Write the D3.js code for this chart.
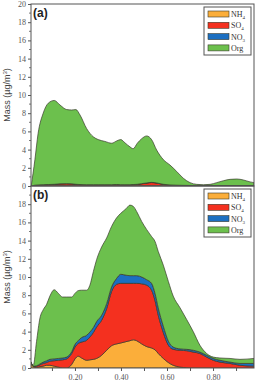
<!DOCTYPE html>
<html>
<head>
<meta charset="utf-8">
<script src="https://cdn.jsdelivr.net/npm/d3@7"></script>
<style>
  body { margin: 0; background: #fff; }
  svg { display: block; }
</style>
</head>
<body>
<div class="chart"></div>
<script>
// Panel (a) - size bins and species masses
const sizeA = [0.010, 0.026, 0.040, 0.062, 0.084, 0.110, 0.135, 0.164, 0.186, 0.204, 0.222, 0.251, 0.280, 0.301,
  0.330, 0.360, 0.381, 0.399, 0.417, 0.439, 0.453, 0.471, 0.490, 0.512, 0.533, 0.555, 0.584, 0.613, 0.642, 0.671,
  0.700, 0.729, 0.758, 0.787, 0.816, 0.845, 0.874, 0.903, 0.932, 0.961, 0.978];
const nh4A = [0, 0.02, 0.02, 0.02, 0.02, 0.02, 0.02, 0.02, 0.02, 0.02, 0.02, 0.02, 0.02, 0.02, 0.02, 0.02, 0.02, 0.02,
  0.02, 0.02, 0.02, 0.02, 0.02, 0.02, 0.02, 0.02, 0.02, 0.02, 0.02, 0.02, 0.02, 0.02, 0.02, 0.02, 0.02, 0.02, 0.02,
  0.02, 0.02, 0.02, 0.02];
const so4A = [0, 0.05, 0.08, 0.10, 0.12, 0.15, 0.20, 0.22, 0.20, 0.15, 0.12, 0.10, 0.10, 0.10, 0.10, 0.10, 0.12, 0.10,
  0.10, 0.10, 0.12, 0.15, 0.22, 0.30, 0.36, 0.30, 0.15, 0.08, 0.05, 0.03, 0.02, 0.01, 0.01, 0.01, 0.01, 0.01, 0.01,
  0.01, 0.01, 0.01, 0.01];
const no3A = [0, 0.02, 0.02, 0.02, 0.02, 0.02, 0.02, 0.02, 0.02, 0.02, 0.02, 0.02, 0.02, 0.02, 0.02, 0.02, 0.02, 0.02,
  0.02, 0.02, 0.02, 0.02, 0.02, 0.02, 0.02, 0.02, 0.02, 0.02, 0.02, 0.02, 0.02, 0.02, 0.02, 0.02, 0.02, 0.02, 0.02,
  0.02, 0.02, 0.02, 0.02];
const orgA = [0, 2.81, 5.68, 7.86, 8.94, 9.21, 8.66, 8.14, 8.11, 8.21, 7.64, 6.16, 5.26, 4.96, 4.76, 4.56, 4.79, 4.96,
  4.61, 4.16, 3.94, 4.51, 4.94, 5.16, 4.70, 3.61, 2.71, 2.18, 1.51, 0.78, 0.31, 0.13, 0.09, 0.13, 0.32, 0.53, 0.68,
  0.72, 0.61, 0.40, 0.32];

// Panel (b)
const sizeB = [0.008, 0.019, 0.033, 0.048, 0.062, 0.077, 0.091, 0.110, 0.128, 0.146, 0.164, 0.186, 0.200, 0.214,
  0.229, 0.251, 0.265, 0.280, 0.294, 0.316, 0.338, 0.359, 0.381, 0.399, 0.422, 0.439, 0.454, 0.468, 0.490, 0.512,
  0.533, 0.548, 0.562, 0.584, 0.606, 0.627, 0.657, 0.686, 0.714, 0.743, 0.772, 0.801, 0.830, 0.874, 0.917, 0.978];
const nh4B = [0.6, 0.15, 0.05, 0.15, 0.2, 0.3, 0.3, 0.2, 0.1, 0, 0, 0.4, 1.0, 1.3, 1.1, 0.85, 0.9, 0.95, 1.05, 1.4,
  1.95, 2.45, 2.65, 2.75, 2.9, 3.0, 3.1, 3.0, 2.65, 2.35, 2.2, 2.0, 1.6, 1.05, 0.6, 0.3, 0.1, 0.03, 0, 0, 0, 0, 0, 0,
  0, 0];
const so4B = [0.05, 0.03, 0.15, 0.2, 0.3, 0.3, 0.45, 0.6, 0.75, 0.9, 1.0, 1.2, 1.3, 1.4, 1.75, 2.2, 2.5, 2.95, 3.45,
  3.85, 4.6, 5.95, 6.55, 6.55, 6.4, 6.3, 6.2, 6.3, 6.6, 6.75, 6.35, 5.4, 4.2, 2.85, 1.9, 1.75, 1.85, 1.87, 1.75, 1.6,
  1.2, 0.85, 0.65, 0.5, 0.3, 0.2];
const no3B = [0, 0.02, 0.05, 0.1, 0.15, 0.2, 0.2, 0.2, 0.2, 0.2, 0.2, 0.2, 0.3, 0.3, 0.5, 0.55, 0.55, 0.55, 0.6, 0.55,
  0.55, 0.5, 0.65, 1.0, 0.9, 0.85, 0.85, 0.85, 0.75, 0.6, 0.75, 0.8, 0.8, 0.7, 0.45, 0.25, 0.15, 0.15, 0.2, 0.15,
  0.2, 0.2, 0.2, 0.15, 0.2, 0.3];
const orgB = [0.05, 0.1, 2.65, 5.05, 5.75, 6.2, 6.95, 7.6, 7.15, 6.7, 6.6, 6.0, 5.6, 5.5, 5.2, 4.95, 5.15, 6.15, 6.8,
  7.5, 7.2, 6.65, 6.65, 6.7, 7.3, 7.75, 7.6, 7.05, 6.1, 5.5, 5.15, 5.7, 6.2, 6.7, 6.55, 5.6, 4.5, 3.25, 2.05, 0.75,
  0.2, 0.15, 0.25, 0.4, 0.45, 0.55];

const species = ["NH4", "SO4", "NO3", "Org"];
const legendNames = [["NH", "4"], ["SO", "4"], ["NO", "3"], ["Org", ""]];
const colors = ["#fbae3a", "#f4301f", "#1c6fc1", "#6cc04d"];
const yTicksA = [0, 2, 4, 6, 8, 10, 12, 14, 16, 18, 20];
const yTicksB = [0, 2, 4, 6, 8, 10, 12, 14, 16, 18];
const xTickLabels = [0.2, 0.4, 0.6, 0.8];
const xMinorTicks = [0.1, 0.2, 0.3, 0.4, 0.5, 0.6, 0.7, 0.8, 0.9];

const Width = 257, Height = 382;
const Left = 31, Right = 254;

const svg = d3.select(".chart").append("svg")
  .attr("width", Width).attr("height", Height);

const x = d3.scaleLinear().domain([0.009, 0.978]).range([Left, Right]);

const color = d3.scaleOrdinal().domain(species).range(colors);

function toRows(size, cols) {
  return size.map((s, i) => ({size: s, NH4: cols[0][i], SO4: cols[1][i], NO3: cols[2][i], Org: cols[3][i]}));
}

function plotPanel(id, top, bottom, rows, yTicks, label, showX) {
  const y = d3.scaleLinear().domain([0, 20]).range([bottom, top]);
  const g = svg.append("g");

  g.append("clipPath").attr("id", "clip" + id)
    .append("rect").attr("x", Left).attr("y", top).attr("width", Right - Left).attr("height", bottom - top);

  const stacked = d3.stack().keys(species)(rows);
  const area = d3.area()
    .x(d => x(d.data.size))
    .y0(d => y(d[0]))
    .y1(d => y(d[1]))
    .curve(d3.curveMonotoneX);

  g.append("g").attr("clip-path", "url(#clip" + id + ")")
    .selectAll("path").data(stacked).join("path")
    .attr("d", area)
    .attr("fill", d => color(d.key))
    .attr("stroke", "#3a3a2c")
    .attr("stroke-width", 0.7)
    .attr("stroke-linejoin", "round");

  // frame
  g.append("rect").attr("x", Left).attr("y", top).attr("width", Right - Left).attr("height", bottom - top)
    .attr("fill", "none").attr("stroke", "#555").attr("stroke-width", 1);

  // Y axis with minor ticks
  const yAxis = g.append("g").attr("transform", "translate(" + Left + ",0)")
    .call(d3.axisLeft(y).tickValues(yTicks).tickSize(3).tickPadding(2).tickFormat(d3.format("d")));
  yAxis.select(".domain").remove();
  yAxis.selectAll("line").attr("stroke", "#555");
  yAxis.selectAll("text")
    .attr("font-family", "'Liberation Serif', 'Times New Roman', serif")
    .attr("font-size", 8).attr("fill", "#555");
  const yMinor = d3.range(1, 20, 2);
  g.append("g").selectAll("line").data(yMinor).join("line")
    .attr("x1", Left - 2).attr("x2", Left)
    .attr("y1", d => y(d)).attr("y2", d => y(d))
    .attr("stroke", "#555").attr("stroke-width", 0.8);

  // Y label
  g.append("text")
    .attr("transform", "translate(10," + ((top + bottom) / 2) + ") rotate(-90)")
    .attr("text-anchor", "middle")
    .attr("font-family", "'Liberation Sans', Arial, sans-serif")
    .attr("font-size", 9).attr("fill", "#444")
    .text("Mass (µg/m")
    .append("tspan").attr("baseline-shift", "super").attr("font-size", 6).text("3")
    .select(function() { return this.parentNode; })
    .append("tspan").text(")");

  // panel letter
  g.append("text").attr("x", Left + 2).attr("y", top + 13)
    .attr("font-family", "'Liberation Sans', Arial, sans-serif")
    .attr("font-weight", "bold").attr("font-size", 12).attr("fill", "#222")
    .text(label);

  // X axis
  if (showX) {
    const xAxis = g.append("g").attr("transform", "translate(0," + bottom + ")")
      .call(d3.axisBottom(x).tickValues(xMinorTicks).tickSize(3).tickPadding(3)
        .tickFormat(d => xTickLabels.some(v => Math.abs(v - d) < 1e-9) ? d3.format(".2f")(d) : ""));
    xAxis.select(".domain").remove();
    xAxis.selectAll("line").attr("stroke", "#555");
    xAxis.selectAll("text")
      .attr("font-family", "'Liberation Serif', 'Times New Roman', serif")
      .attr("font-size", 8).attr("fill", "#555");
  }

  // legend
  const lx = 204, ly = top + 3;
  const legend = g.append("g");
  legend.append("rect").attr("x", lx).attr("y", ly).attr("width", 47).attr("height", 48)
    .attr("fill", "#fff").attr("stroke", "#555").attr("stroke-width", 1);
  species.forEach((s, i) => {
    const cy = ly + 7 + i * 11.3;
    legend.append("rect").attr("x", lx + 4).attr("y", cy - 3).attr("width", 21).attr("height", 6)
      .attr("fill", color(s)).attr("stroke", "#3a3a2c").attr("stroke-width", 0.6);
    const t = legend.append("text").attr("x", lx + 27).attr("y", cy + 3)
      .attr("font-family", "'Liberation Serif', 'Times New Roman', serif")
      .attr("font-size", 8).attr("fill", "#333")
      .text(legendNames[i][0]);
    if (legendNames[i][1]) {
      t.append("tspan").attr("dy", 2).attr("font-size", 5).text(legendNames[i][1]);
    }
  });
}

plotPanel("a", 4, 186, toRows(sizeA, [nh4A, so4A, no3A, orgA]), yTicksA, "(a)", false);
plotPanel("b", 186, 368, toRows(sizeB, [nh4B, so4B, no3B, orgB]), yTicksB, "(b)", true);
</script>
</body>
</html>
